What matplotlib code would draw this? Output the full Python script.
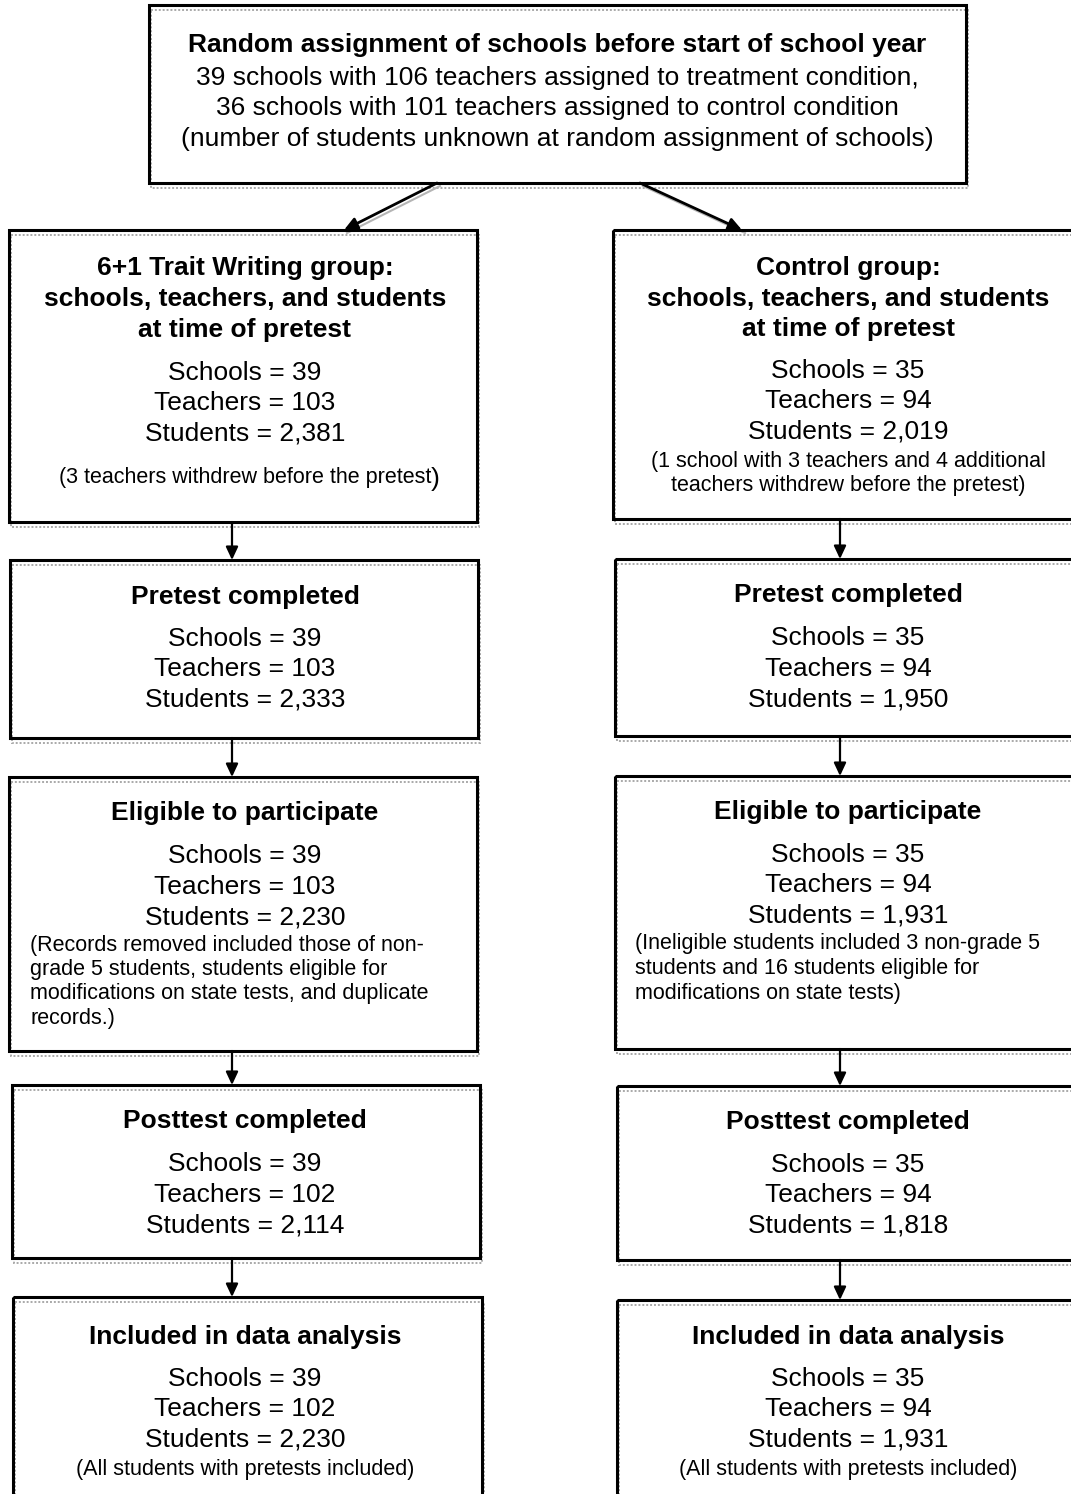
import matplotlib.pyplot as plt
from matplotlib.patches import Rectangle

plt.rcParams['font.family'] = ['Liberation Sans', 'DejaVu Sans']

# Top box text
top_title = "Random assignment of schools before start of school year"
top_lines = ["39 schools with 106 teachers assigned to treatment condition,",
             "36 schools with 101 teachers assigned to control condition",
             "(number of students unknown at random assignment of schools)"]

# Stage headings
left_headings = ["6+1 Trait Writing group:\nschools, teachers, and students\nat time of pretest",
                 "Pretest completed", "Eligible to participate",
                 "Posttest completed", "Included in data analysis"]
right_headings = ["Control group:\nschools, teachers, and students\nat time of pretest",
                  "Pretest completed", "Eligible to participate",
                  "Posttest completed", "Included in data analysis"]

# Counts per stage
left_schools = [39, 39, 39, 39, 39]
left_teachers = [103, 103, 103, 102, 102]
left_students = [2381, 2333, 2230, 2114, 2230]
right_schools = [35, 35, 35, 35, 35]
right_teachers = [94, 94, 94, 94, 94]
right_students = [2019, 1950, 1931, 1818, 1931]

# Notes
left_notes = ["(3 teachers withdrew before the pretest", None,
              "(Records removed included those of non-\ngrade 5 students, students eligible for\n"
              "modifications on state tests, and duplicate\nrecords.)",
              None, "(All students with pretests included)"]
right_notes = ["(1 school with 3 teachers and 4 additional\nteachers withdrew before the pretest)", None,
               "(Ineligible students included 3 non-grade 5\nstudents and 16 students eligible for\n"
               "modifications on state tests)",
               None, "(All students with pretests included)"]

# layout (pixels, y downward)
left_boxes = [(9, 230, 477, 522), (10, 560, 478, 738), (9, 777, 477, 1051),
              (12, 1085, 480, 1258), (13, 1297, 482, 1515)]
right_boxes = [(613, 230, 1082, 519), (615, 559, 1082, 736), (615, 776, 1082, 1049),
               (617, 1086, 1082, 1260), (617, 1300, 1082, 1515)]
left_head_y = [[268, 299, 330], [597], [813], [1121], [1337]]
right_head_y = [[268, 299, 329], [595], [812], [1122], [1337]]
left_count_y = [373, 639, 856, 1164, 1379]
right_count_y = [371, 638, 855, 1165, 1379]
left_note_y = [478, None, 945, None, 1469]
right_note_y = [462, None, 944, None, 1470]

W, H = 1071, 1494
fig = plt.figure(figsize=(W / 100, H / 100), dpi=100)
ax = fig.add_axes([0, 0, 1, 1])
ax.set_xlim(0, W)
ax.set_ylim(H, 0)
ax.axis('off')

MAIN = 19
NOTE = 15.5


def draw_box(x0, y0, x1, y1):
    ax.add_patch(Rectangle((x0 + 2, y0 + 5), x1 - x0, y1 - y0, fill=False,
                           edgecolor='#a9a9a9', lw=1.4, linestyle=(0, (1, 1)), zorder=1))
    ax.add_patch(Rectangle((x0, y0), x1 - x0, y1 - y0, fill=False,
                           edgecolor='black', lw=2.2, zorder=2))


def arrow(x0, y0, x1, y1, lw=1.6, shadow=False):
    if shadow:
        ax.plot([x0 + 3, x1 + 3], [y0 + 3, y1 + 3], color='#b5b5b5', lw=1.5, zorder=1)
    ax.annotate("", xy=(x1, y1), xytext=(x0, y0),
                arrowprops=dict(arrowstyle='-|>,head_length=0.6,head_width=0.28',
                                color='black', lw=lw, shrinkA=0, shrinkB=0,
                                mutation_scale=13), zorder=3)


# top box
draw_box(149, 5, 966, 183)
ax.text(557, 45, top_title, ha='center', va='center', fontsize=MAIN, fontweight='bold')
for y, line in zip([78, 108, 139], top_lines):
    ax.text(557, y, line, ha='center', va='center', fontsize=MAIN)

arrow(437, 183, 344, 230, lw=2.0, shadow=True)
arrow(640, 183, 742, 230, lw=2.0, shadow=True)

columns = [
    (left_boxes, left_headings, left_head_y, left_count_y, left_schools, left_teachers,
     left_students, left_notes, left_note_y, 245, 30),
    (right_boxes, right_headings, right_head_y, right_count_y, right_schools, right_teachers,
     right_students, right_notes, right_note_y, 848, 635),
]

for boxes, heads, head_y, count_y, sch, tea, stu, notes, note_y, cx, lx in columns:
    for i, (x0, y0, x1, y1) in enumerate(boxes):
        draw_box(x0, y0, x1, y1)
        for y, line in zip(head_y[i], heads[i].split("\n")):
            ax.text(cx, y, line, ha='center', va='center', fontsize=MAIN, fontweight='bold')
        lines = [f"Schools = {sch[i]}", f"Teachers = {tea[i]}", f"Students = {stu[i]:,}"]
        for k, line in enumerate(lines):
            ax.text(cx, count_y[i] + k * 30.5, line, ha='center', va='center', fontsize=MAIN)
        if notes[i] is not None:
            nl = notes[i].split("\n")
            if i == 2:
                for k, line in enumerate(nl):
                    ax.text(lx, note_y[i] + k * 24.5, line, ha='left', va='center', fontsize=NOTE)
            else:
                for k, line in enumerate(nl):
                    t = ax.text(cx, note_y[i] + k * 24, line, ha='center', va='center',
                                fontsize=NOTE)
                if boxes is left_boxes and i == 0:
                    # larger closing parenthesis as in the original
                    ax.annotate(")", xy=(1, 0.45), xycoords=t, ha='left', va='center',
                                fontsize=MAIN)
        if i < len(boxes) - 1:
            ax_x = 232 if boxes is left_boxes else 840
            arrow(ax_x, y1, ax_x, boxes[i + 1][1])

fig.savefig("out.png", dpi=100)
